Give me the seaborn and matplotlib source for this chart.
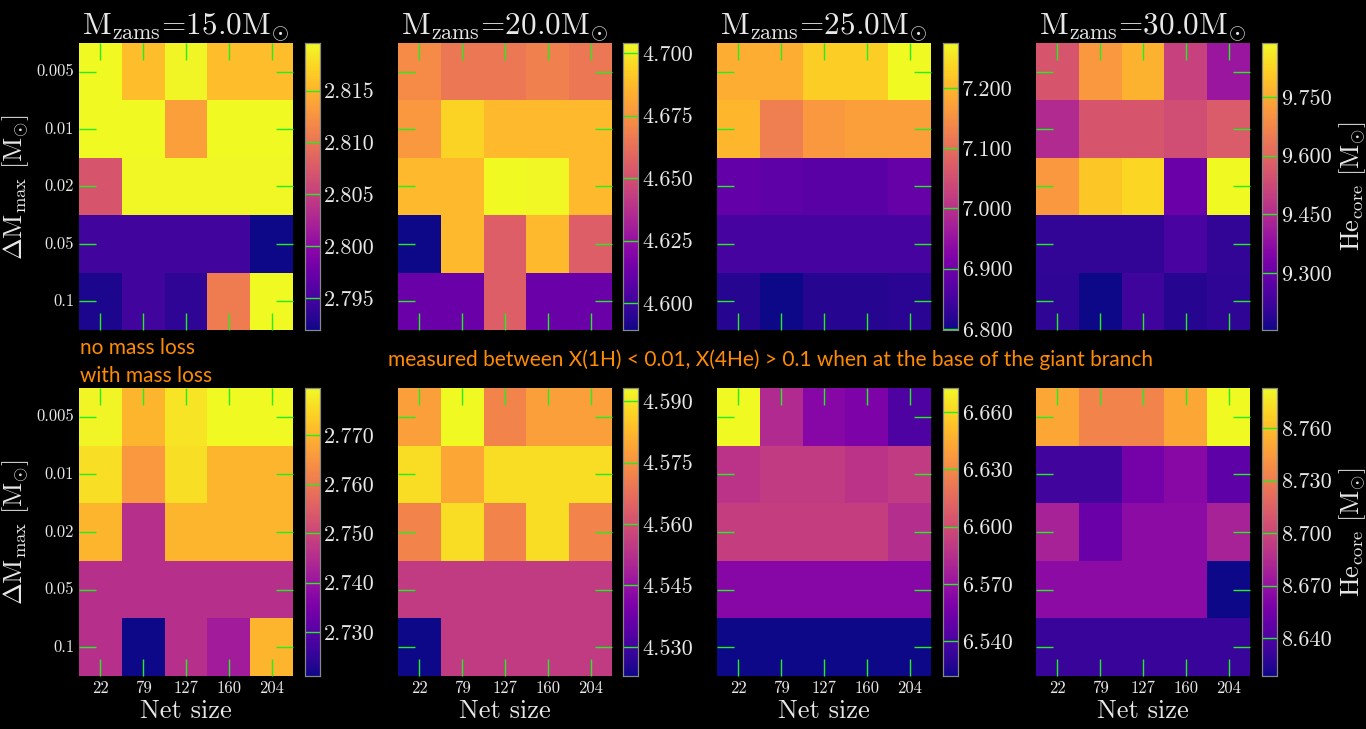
import numpy as np
import pandas as pd
import matplotlib
matplotlib.use("Agg")
import matplotlib.pyplot as plt
import seaborn as sns
from matplotlib.ticker import FormatStrFormatter, FixedLocator

plt.rcParams['font.family'] = 'cmr10'
plt.rcParams['mathtext.fontset'] = 'cm'
plt.rcParams['axes.unicode_minus'] = False
plt.rcParams['axes.formatter.use_mathtext'] = True

net_sizes = ['22', '79', '127', '160', '204']
delta_m = ['0.005', '0.01', '0.02', '0.05', '0.1']
masses = ['15.0', '20.0', '25.0', '30.0']

# He core mass [Msun], rows = delta M max, cols = net size
he15_noloss = [[2.8196, 2.8157, 2.8193, 2.8157, 2.8157],
               [2.8195, 2.8195, 2.8135, 2.8195, 2.8195],
               [2.8071, 2.8194, 2.8194, 2.8194, 2.8194],
               [2.7947, 2.7947, 2.7947, 2.7947, 2.7919],
               [2.7925, 2.7947, 2.7936, 2.8107, 2.8196]]
he20_noloss = [[4.6719, 4.6650, 4.6650, 4.6684, 4.6650],
               [4.6764, 4.6937, 4.6868, 4.6868, 4.6868],
               [4.6868, 4.6868, 4.7040, 4.7035, 4.6868],
               [4.5892, 4.6868, 4.6558, 4.6868, 4.6558],
               [4.6122, 4.6122, 4.6558, 4.6122, 4.6122]]
he25_noloss = [[7.1891, 7.1891, 7.2273, 7.2273, 7.2750],
               [7.1987, 7.1224, 7.1605, 7.1701, 7.1701],
               [6.8839, 6.8791, 6.8743, 6.8743, 6.8886],
               [6.8505, 6.8505, 6.8505, 6.8505, 6.8505],
               [6.8171, 6.7980, 6.8171, 6.8171, 6.8219]]
he30_noloss = [[9.5577, 9.7118, 9.7632, 9.5063, 9.3962],
               [9.4476, 9.5577, 9.5577, 9.5357, 9.5724],
               [9.7118, 9.7999, 9.8293, 9.3008, 9.8880],
               [9.2054, 9.2054, 9.2054, 9.2421, 9.2054],
               [9.1980, 9.1540, 9.2201, 9.1834, 9.1980]]
he15_loss = [[2.7790, 2.7702, 2.7767, 2.7796, 2.7796],
             [2.7761, 2.7655, 2.7761, 2.7702, 2.7702],
             [2.7702, 2.7456, 2.7702, 2.7702, 2.7702],
             [2.7456, 2.7456, 2.7456, 2.7456, 2.7456],
             [2.7456, 2.7210, 2.7456, 2.7415, 2.7702]]
he20_loss = [[4.5777, 4.5932, 4.5721, 4.5777, 4.5777],
             [4.5883, 4.5791, 4.5883, 4.5883, 4.5883],
             [4.5721, 4.5883, 4.5721, 4.5883, 4.5721],
             [4.5552, 4.5552, 4.5552, 4.5552, 4.5552],
             [4.5229, 4.5552, 4.5552, 4.5552, 4.5552]]
he25_loss = [[6.6726, 6.5821, 6.5624, 6.5594, 6.5413],
             [6.5866, 6.5911, 6.5911, 6.5866, 6.5911],
             [6.5926, 6.5926, 6.5926, 6.5926, 6.5836],
             [6.5624, 6.5624, 6.5624, 6.5624, 6.5624],
             [6.5217, 6.5217, 6.5217, 6.5217, 6.5217]]
he30_loss = [[8.7500, 8.7335, 8.7335, 8.7500, 8.7829],
             [8.6348, 8.6348, 8.6562, 8.6644, 8.6463],
             [8.6792, 8.6512, 8.6660, 8.6660, 8.6792],
             [8.6660, 8.6660, 8.6660, 8.6660, 8.6183],
             [8.6315, 8.6315, 8.6315, 8.6315, 8.6315]]

cbar_ticks = [[2.795, 2.800, 2.805, 2.810, 2.815],
              [4.600, 4.625, 4.650, 4.675, 4.700],
              [6.8, 6.9, 7.0, 7.1, 7.2],
              [9.30, 9.45, 9.60, 9.75],
              [2.73, 2.74, 2.75, 2.76, 2.77],
              [4.530, 4.545, 4.560, 4.575, 4.590],
              [6.54, 6.57, 6.60, 6.63, 6.66],
              [8.64, 8.67, 8.70, 8.73, 8.76]]

panels = [he15_noloss, he20_noloss, he25_noloss, he30_noloss,
          he15_loss, he20_loss, he25_loss, he30_loss]

W, H = 1366, 729
fig = plt.figure(figsize=(W / 100, H / 100), dpi=100, facecolor='black')

ax_lefts = [79, 398, 717, 1036]
cb_lefts = [305, 623, 943, 1262]
ax_w, cb_w = 214, 15
rows_px = [(43, 330), (388, 676)]

txt = '#e8e8e8'
green = '#22ee22'

for i, data in enumerate(panels):
    r, c = divmod(i, 4)
    top, bot = rows_px[r]
    ax = fig.add_axes([ax_lefts[c] / W, 1 - bot / H, ax_w / W, (bot - top) / H])
    cax = fig.add_axes([cb_lefts[c] / W, 1 - bot / H, cb_w / W, (bot - top) / H])
    ax.set_facecolor('black')
    df = pd.DataFrame(data, index=delta_m, columns=net_sizes)
    sns.heatmap(df, ax=ax, cmap='plasma', cbar_ax=cax)
    ax.tick_params(which='both', direction='in', top=True, right=True,
                   bottom=True, left=True, color=green, length=12, width=1,
                   labelcolor=txt, labelsize=12)
    ax.set_yticklabels(ax.get_yticklabels(), rotation=0)
    if c != 0:
        ax.set_yticklabels([])
        ax.set_ylabel('')
    else:
        ax.set_ylabel(r'$\Delta\mathrm{M_{max}}\ [\mathrm{M_{\odot}}]$',
                      fontsize=19, color=txt, labelpad=4)
    if r == 0:
        ax.set_xticklabels([])
        ax.set_xlabel('')
        ax.set_title(r'$\mathrm{M_{zams}}$=' + masses[c] + r'$\mathrm{M_{\odot}}$',
                     fontsize=22.5, color=txt, pad=4)
    else:
        ax.set_xticklabels(ax.get_xticklabels(), rotation=0)
        ax.set_xlabel('Net size', fontsize=19, color=txt, labelpad=2)
    cax.yaxis.set_major_locator(FixedLocator(cbar_ticks[i]))
    cax.yaxis.set_major_formatter(FormatStrFormatter('%.3f'))
    cax.tick_params(which='both', direction='in', right=True, color=green,
                    length=11, width=1, labelcolor=txt, labelsize=16, pad=3)
    cax.minorticks_off()
    for sp in cax.spines.values():
        sp.set_visible(True)
        sp.set_edgecolor('#888888')
        sp.set_linewidth(0.8)
    if c == 3:
        cax.set_ylabel(r'$\mathrm{He_{core}}\ [\mathrm{M_{\odot}}]$',
                       fontsize=19, color=txt, labelpad=4)

orange = '#ff8c00'
fig.text(80 / W, 1 - 348 / H, 'no mass loss', family='Lato', fontsize=15,
         color=orange, va='center', ha='left')
fig.text(80 / W, 1 - 376 / H, 'with mass loss', family='Lato', fontsize=15,
         color=orange, va='center', ha='left')
fig.text(388 / W, 1 - 360 / H,
         'measured between X(1H) < 0.01, X(4He) > 0.1 when at the base of the giant branch',
         family='Lato', fontsize=15, color=orange, va='center', ha='left')

fig.savefig('out.png', dpi=100, facecolor='black')
